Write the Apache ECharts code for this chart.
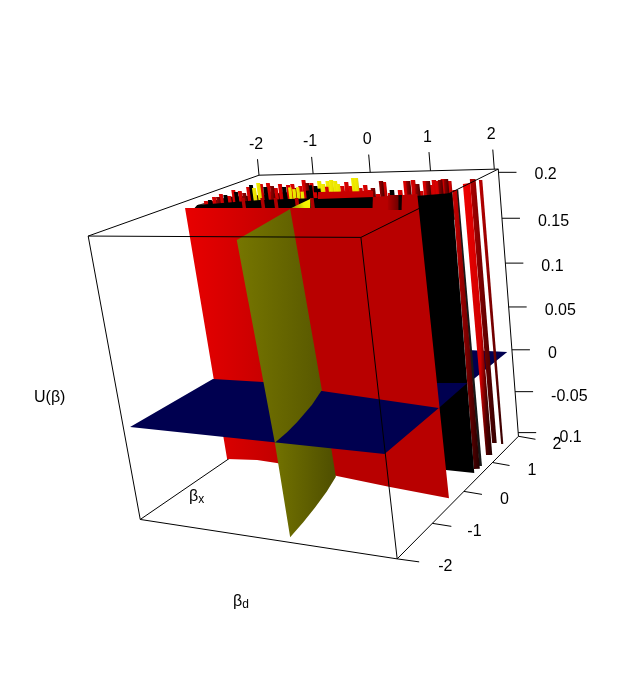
<!DOCTYPE html>
<html><head><meta charset="utf-8"><style>html,body{margin:0;background:#fff}#c{width:638px;height:688px}</style>
<script src="https://cdn.jsdelivr.net/npm/echarts@6/dist/echarts.min.js"></script></head><body><div id="c"></div>
<script>
// ---- axis ticks and names ----
const betaDTicks=[-2,-1,0,1,2];
const betaXTicks=[-2,-1,0,1,2];
const utilityTicks=[0.2,0.15,0.1,0.05,0,-0.05,-0.1];
const utilityLabels=['0.2','0.15','0.1','0.05','0','-0.05','-0.1'];
const betaDRange=[-2,2.06], betaXRange=[-2,2], utilityRange=[-0.1,0.2];
// ---- surfaces: [beta_d, beta_x, U] ----
const redSheet=[[-1.67,-0.36,.2],[1.38,-0.47,.2],[1.02,0.21,.2],[1.60,0.36,.2],[1.95,-0.25,-.1],[0.98,-0.13,-.1],[0.03,0.01,-.1],[-1.14,0.20,-.1],[-1.52,0.23,-.1],[-2.02,0.14,-.1]];
const blackSheet=[[1.60,0.22,.2],[2.09,0.39,.2],[1.95,0.60,-.1],[1.47,0.59,-.1]];
const sliverA=[[2.00,0.59,.2],[2.07,0.58,.2],[1.97,0.75,-.1],[1.89,0.72,-.1]];
const sliverB=[[2.06,0.58,.2],[2.09,0.58,.2],[1.96,0.85,-.1],[1.92,0.84,-.1]];
const sliverC=[[1.98,0.97,.2],[2.06,1.03,.2],[1.95,1.25,-.1],[1.86,1.23,-.1]];
const sliverD=[[1.93,1.31,.2],[2.02,1.30,.2],[1.84,1.68,-.1],[1.77,1.67,-.1]];
const sliverE=[[2.10,1.23,.2],[2.15,1.23,.2],[1.95,1.67,-.1],[1.92,1.66,-.1]];
const zeroFront=[[-1.98,-1.89,0],[-1.98,0.05,0],[-1.09,0.08,0],[0.02,-0.08,0],[1.98,-0.35,0],[1.99,-1.90,0]];
const zeroMiddle=[[1.52,0.53,0],[1.96,0.61,0],[1.98,-0.35,0]];
const zeroBack=[[1.37,1.95,0],[2.00,1.96,0],[1.98,0.66,0]];
const oliveUpper=[[0.46,-2.16,.2],[0.15,-0.48,.2],[0,-0.05,0],[0.17,-0.6,0],[0.31,-1.21,0],[0.37,-1.55,0],[0.41,-1.91,0]];
const oliveLower=[[0.41,-1.91,0],[0.31,-1.21,0],[0,-0.05,0],[0.03,-0.02,-.1],[0.16,-0.5,-.1],[0.27,-1.01,-.1],[0.35,-1.45,-.1],[0.41,-1.87,-.1]];
const yellowPeak=[[0.13,-0.42,.2],[0.08,0.14,.2],[0.43,-0.43,.2]];
const ridgeBand=[[-1.60,-0.17,.2],[-0.72,0.11,.2],[0.17,0.19,.2],[0.98,0.27,.2],[1.54,-0.75,.2],[-1.34,-0.68,.2]];
const ridgeCap=[[-0.07,0.60,.2],[0.80,0.61,.2],[1.02,0.21,.2],[0.21,0.13,.2]];
const ridgeSkirt=[[-1.60,-0.17,.2],[-1.43,0.37,.2],[-1.02,0.42,.2],[-0.42,0.69,.2],[-0.07,0.60,.2],[0.80,0.61,.2],[0.98,0.27,.2]];
const foldDark=[[1.18,0.33,.2],[1.34,0.32,.2],[1.81,-0.59,.2],[1.66,-0.59,.2]];
const foldBlack=[[1.34,0.32,.2],[1.40,0.31,.2],[1.86,-0.60,.2],[1.81,-0.59,.2]];
const ribBetaD=[-1.12,-0.78,-0.55,-0.19,0.07];
const ribBetaX=[0.27,0.25,0.24,0.22,0.20];
// ---- the ragged edge of the surface where it meets the top of the box ----
const fringeBetaD=[-1.64,-1.62,-1.70,-1.62,-1.72,-1.59,-1.47,-1.70,-1.54,-1.52,-1.34,-1.57,-1.62,
-1.41,-1.59,-1.48,-1.25,-1.40,-1.17,-1.00,-1.12,-0.90,-0.92,-0.89,-0.63,-0.65,
-0.88,-0.67,-0.59,-0.38,-0.54,-0.33,-0.39,-0.37,-0.25,-0.07,0.09,-0.01,0.23,
-0.06,-0.01,0.48,0.44,0.70,0.69,0.99,0.55,0.64,1.15,1.07,1.20,0.96,
1.01,1.05,1.26,1.56,1.28,1.33,1.52,1.39,1.48,1.49,1.50,1.55,1.67];
const fringeBetaX=[0.09,0.16,0.37,0.36,0.57,0.50,0.42,0.86,0.70,0.77,0.62,1.06,1.21,
0.98,1.36,1.27,1.04,1.34,1.10,0.94,1.24,1.01,1.15,1.22,0.92,1.06,
1.52,1.28,1.27,1.04,1.41,1.17,1.40,1.47,1.38,1.15,1.00,1.29,0.99,
1.58,1.58,0.83,1.04,0.68,0.81,0.40,1.31,1.23,0.45,0.65,0.64,1.27,
1.26,1.33,1.04,0.55,1.24,1.23,0.95,1.30,1.22,1.29,1.36,1.35,1.20];
const fringeTone='rkrdrkrrkrdrkyyrkrdrrkrrdrrdrkyyyyyyrrryyrrrdrdrrkrrdrdrrdrrrdrdr';
// lower specks inside the yellow patch
const speckBetaD=[-1.14,-1.07,-1.00,-0.93,-0.77,-0.63,-0.49,-0.83,-0.70,-0.56];
const speckBetaX=[1.52,1.52,1.52,1.52,1.52,1.52,1.52,1.52,1.52,1.52];
const speckTopU=[0.192,0.190,0.192,0.187,0.194,0.190,0.192,0.188,0.186,0.184];
const speckTone='yyyykkrkrk';

// ---- camera fitted to the box ----
const camera=[[50.8533,51.5578,-19.2267,323.666],[-6.53819,-5.33773,-98.7106,388.891],[-0.028804,0.0487183,-0.0242213,1]];
const project=([d,x,u])=>{const z=u*10,w=camera[2][0]*d+camera[2][1]*x+camera[2][2]*z+1;
  return [(camera[0][0]*d+camera[0][1]*x+camera[0][2]*z+camera[0][3])/w,(camera[1][0]*d+camera[1][1]*x+camera[1][2]*z+camera[1][3])/w];};
// the box runs a little past the outer U ticks
const utilityOnBox=v=>0.0505+(v-0.05)*0.974;

const grad=(...c)=>new echarts.graphic.LinearGradient(0,0,1,0,c.map((k,i)=>Array.isArray(k)?{offset:k[0],color:k[1]}:{offset:i/(c.length-1),color:k}));
const toneFill={r:grad('#e00000','#c80000','#500000'),k:'#000000',d:grad('#a00000','#200000'),y:grad('#f4f000','#e8e000','#807000')};
const faces=[];
const face=(pts,fill)=>faces.push({pts,fill});
const D=betaDRange,X=betaXRange,U=utilityRange;

// behind everything
faces.push({pts:[[D[0],X[0],U[0]],[D[0],X[1],U[0]]],stroke:true});
face(zeroBack,'#000050');
face(sliverE,grad('#c00000','#800000','#300000'));
face(sliverD,grad('#b00000','#700000','#300000'));
face(sliverC,grad([0,'#f00000'],[0.6,'#d00000'],[0.8,'#500000'],[1,'#200000']));
face(sliverB,'#181818');
face(sliverA,grad('#d00000','#800000','#200000'));
face(ridgeSkirt,'#2a0000');
['r','d','k','y'].forEach(tone=>fringeBetaD.forEach((d,i)=>{if(fringeTone[i]!==tone)return;const x=fringeBetaX[i],w=0.035;
  face([[d-w,x,.2],[d+w,x,.2],[d+w,x,.16],[d-w,x,.16]],toneFill[tone]);}));
speckBetaD.forEach((d,i)=>{const x=speckBetaX[i],w=0.03,t=speckTopU[i];
  face([[d-w,x,t],[d+w,x,t],[d+w,x,.16],[d-w,x,.16]],toneFill[speckTone[i]]);});
face(ridgeBand,'#000000');
face(ridgeCap,'#c80000');
ribBetaD.forEach((d,i)=>{const x=ribBetaX[i],w=0.03;
  face([[d-w,x,.2],[d+w,x,.2],[d+w,x,.187],[d-w,x,.187]],'#b00000');});
face(yellowPeak,new echarts.graphic.LinearGradient(0,1,1,0,[{offset:0,color:'#8a8a00'},{offset:.6,color:'#f0f000'},{offset:1,color:'#f8f800'}]));
face(blackSheet,'#000000');
face(zeroMiddle,'#000050');
face(redSheet,grad([0,'#e80000'],[0.12,'#dc0000'],[0.45,'#b80000'],[1,'#b80000']));
face(foldDark,grad('#b00000','#700000'));
face(foldBlack,'#100000');
face(oliveLower,grad('#727200','#4e4e00'));
face(zeroFront,'#000050');
face(oliveUpper,grad('#767600','#585800'));
// visible box edges
[[[D[0],X[0],U[1]],[D[1],X[0],U[1]]],[[D[0],X[0],U[0]],[D[1],X[0],U[0]]],
 [[D[0],X[0],U[0]],[D[0],X[0],U[1]]],[[D[1],X[0],U[0]],[D[1],X[0],U[1]]],
 [[D[0],X[1],U[1]],[D[1],X[1],U[1]]],[[D[1],X[1],U[0]],[D[1],X[1],U[1]]],
 [[D[0],X[0],U[1]],[D[0],X[1],U[1]]],[[D[1],X[0],U[1]],[D[1],X[1],U[1]]],
 [[D[1],X[0],U[0]],[D[1],X[1],U[0]]]].forEach(e=>faces.push({pts:e,stroke:true}));
// ticks: anchor point on the box, then a short screen offset
const font='16px "Liberation Sans", Arial, sans-serif';
const marks=[];
const tick=(p,dx,dy,text,lx,ly,align)=>{marks.push({p,dx,dy,text,lx,ly,align});};
betaDTicks.forEach((v,i)=>tick([v,X[1],U[1]],-1.5,-16-i*0.9,String(v),-3,-31-i*0.9,'center'));
const betaXTickLen=[22,19,18,17,17], betaXLabelDx=[41,35,36,35,34];
betaXTicks.forEach((v,i)=>tick([D[1],v,U[0]],betaXTickLen[i],3,String(v),betaXLabelDx[i],8,'left'));
utilityTicks.forEach((v,i)=>tick([D[1],X[1],utilityOnBox(v)],18,0,utilityLabels[i],36,2.5+i*0.4,'left'));

const chart=echarts.init(document.getElementById('c'),null,{renderer:'canvas'});
chart.setOption({
  animation:false,backgroundColor:'#ffffff',
  grid:{left:0,right:0,top:0,bottom:0},
  xAxis:{type:'value',min:0,max:638,show:false},
  yAxis:{type:'value',min:0,max:688,inverse:true,show:false},
  series:[
   {type:'custom',coordinateSystem:'cartesian2d',clip:false,silent:true,z:2,data:faces.map((_,i)=>[i]),
    renderItem:(p,api)=>{const f=faces[api.value(0)],pts=f.pts.map(q=>api.coord(project(q)));
      if(f.stroke)return {type:'line',z2:p.dataIndex,shape:{x1:pts[0][0],y1:pts[0][1],x2:pts[1][0],y2:pts[1][1]},style:{stroke:'#000',lineWidth:1}};
      return {type:'polygon',z2:p.dataIndex,shape:{points:pts},style:{fill:f.fill}};}},
   {type:'custom',coordinateSystem:'cartesian2d',clip:false,silent:true,z:3,data:marks.map((_,i)=>[i]),
    renderItem:(p,api)=>{const m=marks[api.value(0)],a=api.coord(project(m.p));
      return {type:'group',children:[
        {type:'line',shape:{x1:a[0],y1:a[1],x2:a[0]+m.dx,y2:a[1]+m.dy},style:{stroke:'#000',lineWidth:1}},
        {type:'text',style:{x:a[0]+m.lx,y:a[1]+m.ly,text:m.text,font,fill:'#000',textAlign:m.align,textVerticalAlign:'middle'}}]};}}
  ],
  graphic:[
   {type:'text',left:34,top:390,style:{text:'U(β)',font,fill:'#000'}},
   {type:'text',left:189,top:489,style:{text:'{a|β}{b|x}',fill:'#000',rich:{a:{font,fill:'#000'},b:{fontFamily:'Liberation Sans',fontSize:12,fill:'#000',padding:[6,0,0,0]}}}},
   {type:'text',left:233,top:594,style:{text:'{a|β}{b|d}',fill:'#000',rich:{a:{font,fill:'#000'},b:{fontFamily:'Liberation Sans',fontSize:12,fill:'#000',padding:[6,0,0,0]}}}}
  ]
});
</script></body></html>
